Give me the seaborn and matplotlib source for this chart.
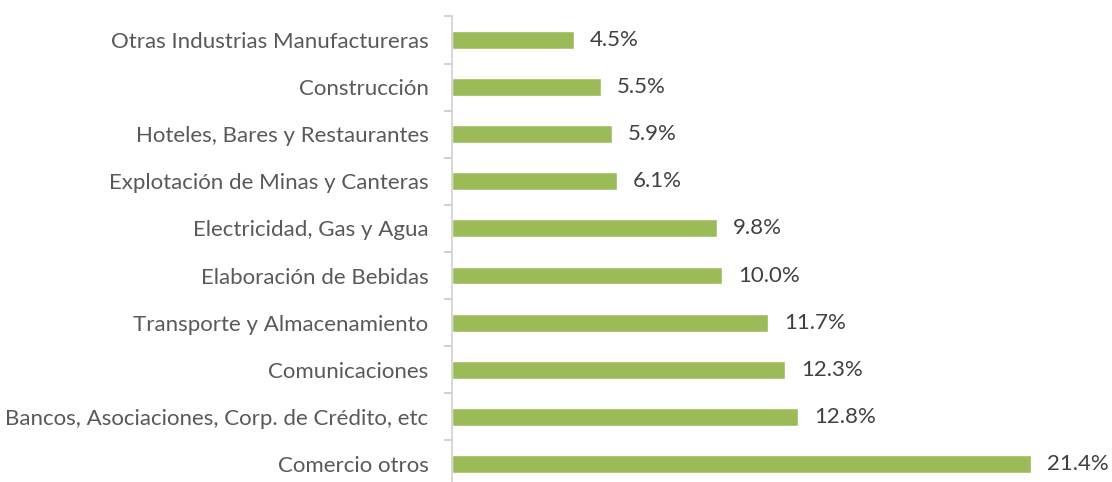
import numpy as np
import pandas as pd
import matplotlib
matplotlib.use("Agg")
import matplotlib.pyplot as plt
import seaborn as sns

sectores = [
    "Otras Industrias Manufactureras",
    "Construcción",
    "Hoteles, Bares y Restaurantes",
    "Explotación de Minas y Canteras",
    "Electricidad, Gas y Agua",
    "Elaboración de Bebidas",
    "Transporte y Almacenamiento",
    "Comunicaciones",
    "Bancos, Asociaciones, Corp. de Crédito, etc",
    "Comercio otros",
]
valores = [4.5, 5.5, 5.9, 6.1, 9.8, 10.0, 11.7, 12.3, 12.8, 21.4]

df = pd.DataFrame({"Sector": sectores, "Pct": valores})

sns.set_style("white")
plt.rcParams["font.family"] = ["Lato", "DejaVu Sans"]

fig = plt.figure(figsize=(11.12, 4.82), dpi=100)
ax = fig.add_axes([0.4065, -0.0114, 0.5835, 0.9772])

sns.barplot(data=df, y="Sector", x="Pct", orient="h", color="#9BBB59",
            saturation=1, width=0.38, ax=ax)

for i, v in enumerate(valores):
    ax.text(v + 0.6, i, f"{v:.1f}%", va="center", ha="left",
            fontsize=16, color="#404040")

ax.set_xlim(0, 24)
ax.set_ylim(len(sectores) - 0.5, -0.5)
ax.set_xlabel("")
ax.set_ylabel("")
ax.set_xticks([])
ax.set_yticks(range(len(sectores)))
ax.set_yticklabels(sectores, fontsize=16, color="#595959")
ax.tick_params(axis="y", which="major", left=False, length=0, pad=17)
ax.set_yticks(np.arange(-0.5, len(sectores), 1), minor=True)
ax.tick_params(axis="y", which="minor", left=True, length=6,
               color="#C8C8C8", width=1.2)

for s in ["top", "right", "bottom"]:
    ax.spines[s].set_visible(False)
ax.spines["left"].set_color("#D0D0D0")
ax.spines["left"].set_linewidth(1.2)

fig.savefig("out.png", dpi=100)
